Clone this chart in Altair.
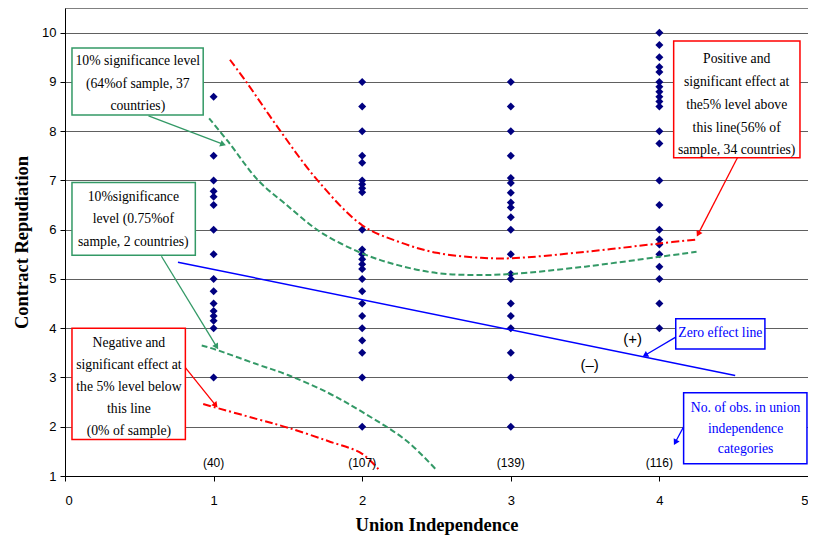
import math
import altair as alt
import pandas as pd

# ---------------- data ----------------
cat1 = [8.7, 7.5, 7.0, 6.78, 6.67, 6.5, 6.0, 5.5, 5.0, 4.75, 4.5, 4.35, 4.25, 4.15, 4.0, 3.0]
cat2 = [9.0, 8.5, 8.0, 7.5, 7.36, 7.0, 6.92, 6.84, 6.76, 6.0, 5.6, 5.5, 5.4, 5.3, 5.2,
        5.0, 4.75, 4.5, 4.25, 4.0, 3.75, 3.5, 3.0, 2.0]
cat3 = [9.0, 8.5, 8.0, 7.5, 7.05, 6.95, 6.75, 6.55, 6.45, 6.25, 6.0, 5.5, 5.1, 5.0,
        4.5, 4.25, 4.0, 3.5, 3.0, 2.0]
cat4 = [10.0, 9.75, 9.5, 9.3, 9.2, 9.0, 8.9, 8.8, 8.7, 8.6, 8.5, 8.0, 7.75, 7.0, 6.5,
        6.0, 5.8, 5.7, 5.5, 5.25, 5.0, 4.5, 4.0]

upper_red_x = [1.11, 1.22, 1.45, 1.7, 2.0, 2.24, 2.5, 2.8, 3.0, 3.5, 4.0, 4.25]
upper_red_y = [9.45, 9.0, 8.0, 7.0, 6.09, 5.76, 5.53, 5.43, 5.42, 5.55, 5.72, 5.8]
upper_green_x = [0.97, 1.1, 1.3, 1.48, 1.72, 2.0, 2.24, 2.5, 2.75, 3.0, 3.5, 4.0, 4.25]
upper_green_y = [8.26, 7.78, 7.0, 6.53, 5.95, 5.52, 5.28, 5.12, 5.08, 5.1, 5.25, 5.45, 5.55]
lower_green_x = [0.92, 1.0, 1.3, 1.5, 1.77, 2.0, 2.3, 2.5]
lower_green_y = [3.65, 3.58, 3.26, 3.05, 2.69, 2.3, 1.71, 1.12]
lower_red_x = [0.93, 1.0, 1.3, 1.5, 1.77, 2.0, 2.12]
lower_red_y = [2.46, 2.4, 2.15, 1.98, 1.71, 1.45, 1.1]
zero_x = [0.76, 4.51]
zero_y = [5.34, 3.04]

count_x = [1, 2, 3, 4]
count_labels = ["(40)", "(107)", "(139)", "(116)"]
count_y = 1.26

# annotation boxes (data units)
box_x1 = [0.047, 0.047, 0.047, 4.096, 4.11, 4.163]
box_x2 = [0.93, 0.877, 0.81, 4.946, 4.71, 4.993]
box_y1 = [9.69, 6.96, 4.0, 9.83, 4.19, 2.69]
box_y2 = [8.33, 5.48, 1.74, 7.46, 3.58, 1.25]
box_col = ["#339966", "#339966", "#FF0000", "#FF0000", "#0000FF", "#0000FF"]

ann_text = ["10% significance level", "(64%of sample, 37", "countries)",
            "10%significance", "level (0.75%of", "sample, 2 countries)",
            "Negative and", "significant effect at", "the 5% level below", "this line", "(0% of sample)",
            "Positive and", "significant effect at", "the5% level above", "this line(56% of", "sample, 34 countries)",
            "Zero effect line",
            "No. of obs. in union", "independence", "categories"]
ann_x = [0.49, 0.49, 0.49,
         0.46, 0.46, 0.46,
         0.43, 0.43, 0.43, 0.43, 0.43,
         4.52, 4.52, 4.52, 4.52, 4.52,
         4.41,
         4.58, 4.58, 4.58]
ann_y = [9.43, 8.96, 8.52,
         6.67, 6.21, 5.76,
         3.70, 3.25, 2.81, 2.36, 1.92,
         9.47, 9.0, 8.54, 8.07, 7.62,
         3.91,
         2.39, 1.96, 1.54]
ann_col = ["#000000"] * 16 + ["#0000FF"] * 4

arr_x1 = [0.562, 0.649, 0.81, 4.525, 4.11, 4.163]
arr_y1 = [8.31, 5.46, 3.2, 7.46, 3.82, 2.0]
arr_x2 = [1.058, 1.017, 1.01, 4.264, 3.909, 4.11]
arr_y2 = [7.74, 3.64, 2.45, 5.93, 3.46, 1.7]
arr_col = ["#339966", "#339966", "#FF0000", "#FF0000", "#0000FF", "#0000FF"]

sign_text = ["(+)", "(\u2013)"]
sign_x = [3.82, 3.53]
sign_y = [3.78, 3.26]

# ---------------- chart ----------------
W, H = 743, 468
XD, YD = [0, 5], [1, 10.5]
pxx = W / (XD[1] - XD[0])
pxy = H / (YD[1] - YD[0])

xs = alt.Scale(domain=XD, nice=False, zero=False)
ys = alt.Scale(domain=YD, nice=False, zero=False)
SERIF = "Liberation Serif"
SANS = "Liberation Sans"

X_AX = alt.Axis(
    values=[0, 1, 2, 3, 4, 5], grid=False, title="Union Independence",
    labelFont=SANS, labelFontSize=13, labelColor="#000", labelPadding=13,
    tickColor="#000", tickSize=5, domainColor="#000",
    titleFont=SERIF, titleFontSize=18.5, titleFontWeight="bold", titleColor="#000",
    titlePadding=8)
Y_AX = alt.Axis(
    values=list(range(1, 11)), grid=True, gridColor="#606060", gridWidth=1,
    title="Contract Repudiation",
    labelFont=SANS, labelFontSize=13, labelColor="#000", labelPadding=4,
    tickColor="#000", tickSize=5, domainColor="#000",
    titleFont=SERIF, titleFontSize=18.5, titleFontWeight="bold", titleColor="#000",
    titlePadding=10)


def X(f):
    return alt.X(f, scale=xs, axis=X_AX)


def Y(f):
    return alt.Y(f, scale=ys, axis=Y_AX)


pts = pd.DataFrame({
    "x": [1] * len(cat1) + [2] * len(cat2) + [3] * len(cat3) + [4] * len(cat4),
    "y": cat1 + cat2 + cat3 + cat4,
})

points = alt.Chart(pts).mark_point(shape="diamond", filled=True, color="#000080",
                                   size=64, opacity=1).encode(x=X("x:Q"), y=Y("y:Q"))


def line_layer(xv, yv, color, dash, width=2):
    df = pd.DataFrame({"x": xv, "y": yv})
    kw = dict(color=color, strokeWidth=width, interpolate="catmull-rom")
    if dash:
        kw["strokeDash"] = dash
    return alt.Chart(df).mark_line(**kw).encode(x=X("x:Q"), y=Y("y:Q"))


l_ured = line_layer(upper_red_x, upper_red_y, "#FF0000", [8, 3, 2, 3])
l_ugreen = line_layer(upper_green_x, upper_green_y, "#339966", [6, 3])
l_lgreen = line_layer(lower_green_x, lower_green_y, "#339966", [6, 3])
l_lred = line_layer(lower_red_x, lower_red_y, "#FF0000", [8, 3, 2, 3])
l_zero = line_layer(zero_x, zero_y, "#0000FF", None, 1.5)

boxes_df = pd.DataFrame({"x": box_x1, "x2": box_x2, "y": box_y1, "y2": box_y2, "c": box_col})
boxes = alt.Chart(boxes_df).mark_rect(fill="white", strokeWidth=1.5).encode(
    x=X("x:Q"), x2="x2:Q", y=Y("y:Q"), y2="y2:Q",
    stroke=alt.Color("c:N", scale=None))

ann_df = pd.DataFrame({"t": ann_text, "x": ann_x, "y": ann_y, "c": ann_col})
ann = alt.Chart(ann_df).mark_text(font=SERIF, fontSize=13.7, align="center",
                                  baseline="middle").encode(
    x=X("x:Q"), y=Y("y:Q"), text="t:N", color=alt.Color("c:N", scale=None))

arr_df = pd.DataFrame({"x": arr_x1, "y": arr_y1, "x2": arr_x2, "y2": arr_y2, "c": arr_col})
arr_df["angle"] = [
    (math.degrees(math.atan2((b - a) * pxx, (d - c) * pxy)) + 360) % 360
    for a, b, c, d in zip(arr_df.x, arr_df.x2, arr_df.y, arr_df.y2)
]
arrows = alt.Chart(arr_df).mark_rule(strokeWidth=1.3).encode(
    x=X("x:Q"), x2="x2:Q", y=Y("y:Q"), y2="y2:Q",
    color=alt.Color("c:N", scale=None))
head_df = pd.DataFrame({"x": arr_x2, "y": arr_y2, "c": arr_col, "angle": arr_df["angle"]})
heads = alt.Chart(head_df).mark_point(shape="triangle", filled=True, size=45, opacity=1).encode(
    x=X("x:Q"), y=Y("y:Q"),
    angle=alt.Angle("angle:Q", scale=None),
    color=alt.Color("c:N", scale=None))

cnt_df = pd.DataFrame({"x": count_x, "t": count_labels, "y": [count_y] * 4})
counts = alt.Chart(cnt_df).mark_text(font=SANS, fontSize=12, color="#000").encode(
    x=X("x:Q"), y=Y("y:Q"), text="t:N")

sign_df = pd.DataFrame({"x": sign_x, "y": sign_y, "t": sign_text})
signs = alt.Chart(sign_df).mark_text(font=SANS, fontSize=15, color="#000").encode(
    x=X("x:Q"), y=Y("y:Q"), text="t:N")

chart = alt.layer(points, l_zero, l_ured, l_ugreen, l_lgreen, l_lred, counts, signs,
                  boxes, ann, arrows, heads).properties(
    width=W, height=H,
    autosize=alt.AutoSizeParams(type="none"),
    padding={"left": 57, "top": 0, "right": 0, "bottom": 62},
    background="white",
).configure_view(stroke="#808080", strokeWidth=1)

chart.save("out.html", embed_options={"renderer": "svg", "actions": False})
